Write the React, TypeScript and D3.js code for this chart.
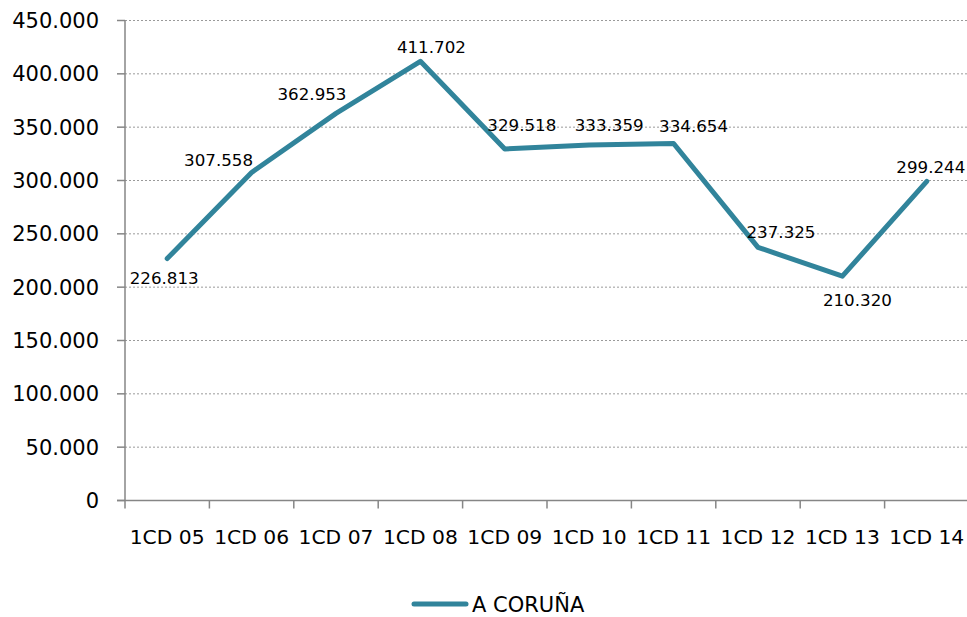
import React from "react";
import * as d3 from "d3";

const categories = ["1CD 05", "1CD 06", "1CD 07", "1CD 08", "1CD 09", "1CD 10", "1CD 11", "1CD 12", "1CD 13", "1CD 14"];
const values = [226813, 307558, 362953, 411702, 329518, 333359, 334654, 237325, 210320, 299244];
const valueLabels = ["226.813", "307.558", "362.953", "411.702", "329.518", "333.359", "334.654", "237.325", "210.320", "299.244"];
const yTicks = [0, 50000, 100000, 150000, 200000, 250000, 300000, 350000, 400000, 450000];
const seriesName = "A CORUÑA";
// label offsets relative to point (styling)
const labelDx = [-3, -33, -24, 11, 17, 20, 20, 23, 15, 4];
const labelDy = [19, -12, -19, -14, -24, -20, -18, -15, 24, -14];

const W = 967;
const H = 617;
const COLOR = "#31849B";
const FONT = "'DejaVu Sans', sans-serif";

function fmtTick(v: number) {
  if (v === 0) return "0";
  const s = d3.format(",")(v);
  return s.replace(/,/g, ".");
}

export default function App() {
  const x = d3.scaleBand<string>().domain(categories).range([125, 969]).padding(0);
  const y = d3.scaleLinear().domain([0, 450000]).range([500.5, 20.5]);
  const cx = (c: string) => (x(c) as number) + x.bandwidth() / 2;
  const line = d3
    .line<number>()
    .x((_, i) => cx(categories[i]))
    .y((d) => y(d));

  return (
    <svg width={W} height={H} style={{ position: "absolute", left: 0, top: 0, background: "#fff" }}>
      {/* gridlines */}
      {yTicks.filter((t) => t > 0).map((t) => (
        <line key={"g" + t} x1={125} x2={W} y1={y(t)} y2={y(t)} stroke="#9a9a9a" strokeWidth={1} strokeDasharray="2,2" />
      ))}
      {/* y axis */}
      <line x1={125} x2={125} y1={y(450000)} y2={y(0)} stroke="#868686" strokeWidth={1.5} />
      {yTicks.map((t) => (
        <g key={"y" + t}>
          <line x1={117} x2={125} y1={y(t)} y2={y(t)} stroke="#868686" strokeWidth={1.5} />
          <text x={99} y={y(t)} dy="0.36em" textAnchor="end" fontFamily={FONT} fontSize={21} fill="#000">
            {fmtTick(t)}
          </text>
        </g>
      ))}
      {/* x axis */}
      <line x1={117} x2={W} y1={y(0)} y2={y(0)} stroke="#868686" strokeWidth={1.5} />
      {categories.map((c) => (
        <line key={"t" + c} x1={x(c) as number} x2={x(c) as number} y1={y(0)} y2={y(0) + 8} stroke="#868686" strokeWidth={1.5} />
      ))}
      <line x1={969} x2={969} y1={y(0)} y2={y(0) + 8} stroke="#868686" strokeWidth={1.5} />
      {categories.map((c) => (
        <text key={"x" + c} x={cx(c)} y={544} textAnchor="middle" fontFamily={FONT} fontSize={20.3} fill="#000">
          {c}
        </text>
      ))}
      {/* series */}
      <path d={line(values) || ""} fill="none" stroke={COLOR} strokeWidth={5} strokeLinejoin="round" strokeLinecap="round" />
      {values.map((v, i) => (
        <text
          key={"l" + i}
          x={cx(categories[i]) + labelDx[i]}
          y={y(v) + labelDy[i]}
          dy="0.36em"
          textAnchor="middle"
          fontFamily={FONT}
          fontSize={16.7}
          fill="#000"
        >
          {valueLabels[i]}
        </text>
      ))}
      {/* legend */}
      <line x1={414} x2={466} y1={604} y2={604} stroke={COLOR} strokeWidth={5} strokeLinecap="round" />
      <text x={472} y={612} fontFamily={FONT} fontSize={21} fill="#000">
        {seriesName}
      </text>
    </svg>
  );
}
